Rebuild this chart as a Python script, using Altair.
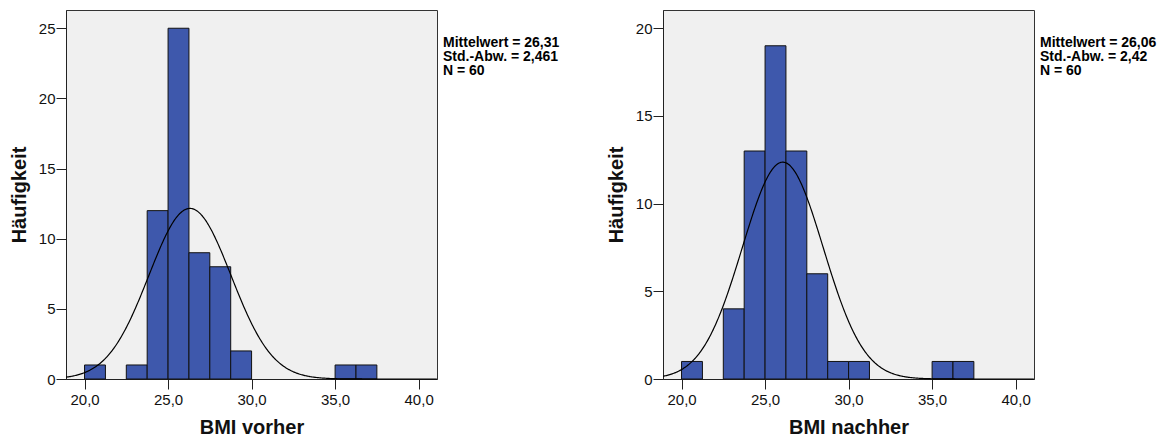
import altair as alt
import pandas as pd

# ---- data ----
bin_starts = [20.0, 21.25, 22.5, 23.75, 25.0, 26.25, 27.5, 28.75, 30.0, 31.25, 32.5, 33.75, 35.0, 36.25]
bin_width = 1.25
counts_vorher = [1, 0, 1, 12, 25, 9, 8, 2, 0, 0, 0, 0, 1, 1]
counts_nachher = [1, 0, 4, 13, 19, 13, 6, 1, 1, 0, 0, 0, 1, 1]

mean_vorher, sd_vorher = 26.31, 2.461
mean_nachher, sd_nachher = 26.06, 2.42
n_obs = 60

stats_vorher = ["Mittelwert = 26,31", "Std.-Abw. = 2,461", "N = 60"]
stats_nachher = ["Mittelwert = 26,06", "Std.-Abw. = 2,42", "N = 60"]

x_ticks = [20, 25, 30, 35, 40]
y_ticks_vorher = [0, 5, 10, 15, 20, 25]
y_ticks_nachher = [0, 5, 10, 15, 20]

X_MIN, X_MAX = 18.89, 41.1
W, H = 371, 369
FONT = "Liberation Sans"
BAR_FILL = "#3E58AC"


def panel(counts, mean, sd, ymax, yticks, xtitle, stats):
    df = pd.DataFrame({"start": bin_starts, "count": counts})
    df = df[df["count"] > 0].copy()
    df["end"] = df["start"] + bin_width

    xscale = alt.Scale(domain=[X_MIN, X_MAX], nice=False, zero=False)
    yscale = alt.Scale(domain=[0, ymax], nice=False, zero=True)
    common = dict(labelFont=FONT, labelFontSize=15, labelColor="#111111",
                  tickSize=10, tickColor="#222222", tickWidth=1,
                  domainColor="#222222", domainWidth=1, grid=False,
                  titleFont=FONT, titleFontSize=20, titleFontWeight="bold",
                  titleColor="#111111")
    xaxis = alt.Axis(values=x_ticks, title=xtitle,
                     labelExpr="replace(format(datum.value, '.1f'), '.', ',')",
                     labelPadding=3, titlePadding=10, **common)
    yaxis = alt.Axis(values=yticks, title="Häufigkeit", format="d",
                     labelPadding=1, titlePadding=9, **common)

    bars = alt.Chart(df).mark_rect(fill=BAR_FILL, stroke="#111111", strokeWidth=1).encode(
        x=alt.X("start:Q", scale=xscale, axis=xaxis),
        x2="end:Q",
        y=alt.Y("count:Q", scale=yscale, axis=yaxis),
        y2=alt.datum(0),
    )

    scale_factor = n_obs * bin_width
    curve = alt.Chart(alt.sequence(X_MIN, X_MAX, 0.05, as_="x")).transform_calculate(
        y=f"{scale_factor}/({sd}*sqrt(2*PI))*exp(-0.5*pow((datum.x-{mean})/{sd},2))"
    ).mark_line(color="black", strokeWidth=1.2).encode(
        x=alt.X("x:Q", scale=xscale, axis=xaxis),
        y=alt.Y("y:Q", scale=yscale, axis=yaxis),
    )

    text = alt.Chart(pd.DataFrame({"a": [0]})).mark_text(
        align="left", baseline="alphabetic", font=FONT, fontSize=14,
        fontWeight="bold", lineHeight=14, color="black"
    ).encode(
        x=alt.value(W + 6),
        y=alt.value(37),
        text=alt.value(stats),
    )

    return alt.layer(bars, curve, text).properties(width=W, height=H)


left = panel(counts_vorher, mean_vorher, sd_vorher, 26.3, y_ticks_vorher, "BMI vorher", stats_vorher)
right = panel(counts_nachher, mean_nachher, sd_nachher, 21.04, y_ticks_nachher, "BMI nachher", stats_nachher)

chart = alt.hconcat(left, right, spacing=45).properties(
    padding={"left": 0, "top": 1, "right": 5, "bottom": 0}
).configure_view(
    fill="#F0F0F0", stroke="#333333", strokeWidth=1
)

chart.save("out.html", embed_options={"renderer": "svg", "actions": False})
